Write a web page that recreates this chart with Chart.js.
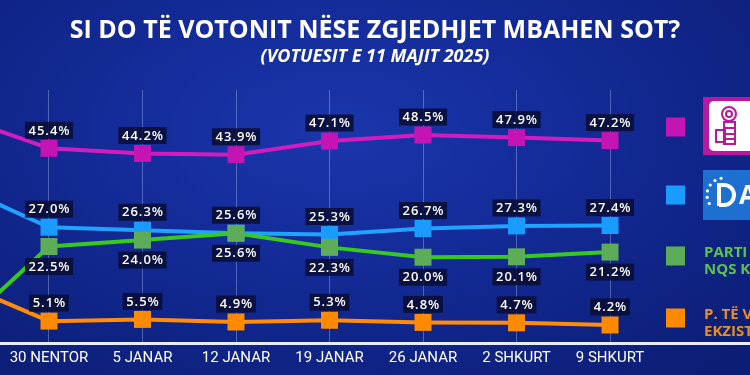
<!DOCTYPE html>
<html>
<head>
<meta charset="utf-8">
<script src="https://cdn.jsdelivr.net/npm/chart.js@4/dist/chart.umd.min.js"></script>
<style>
  html, body { margin: 0; padding: 0; }
  body {
    width: 750px; height: 375px; overflow: hidden;
    background: radial-gradient(ellipse 75% 85% at 45% 35%, #1b36ac 0%, #132a96 45%, #0b1d74 100%);
  }
  #wrap { position: relative; width: 750px; height: 375px; }
</style>
</head>
<body>
<div id="wrap"><canvas id="chart"></canvas></div>
<script>
'use strict';

// index 0 is the earlier poll that sits just off the left edge
const dates = ['', '30 NENTOR', '5 JANAR', '12 JANAR', '19 JANAR', '26 JANAR', '2 SHKURT', '9 SHKURT'];
const parties = ['PS', 'PD', 'PARTI E RE NQS KRIJOHET', 'P. TË VOGLA EKZISTUESE'];

const psValues    = [53.0, 45.4, 44.2, 43.9, 47.1, 48.5, 47.9, 47.2];
const pdValues    = [36.9, 27.0, 26.3, 25.6, 25.3, 26.7, 27.3, 27.4];
const newValues   = [2.5, 22.5, 24.0, 25.6, 22.3, 20.0, 20.1, 21.2];
const smallValues = [14.4, 5.1, 5.5, 4.9, 5.3, 4.8, 4.7, 4.2];

const legendLines = [
    null,
    null,
    ['PARTI E RE', 'NQS KRIJOHET'],
    ['P. TË VOGLA', 'EKZISTUESE'],
];

const COLORS = {
    ps:    { line: '#d21cc0', point: '#c414b3' },
    pd:    { line: '#20a2ff', point: '#1a9bff' },
    fresh: { line: '#38c91f', point: '#5dad58' },
    small: { line: '#ff8c0a', point: '#ff8a00' },
};

function pointRadii(values) {
    return values.map((v, i) => (i === 0 ? 0 : 12));
}

function makeSeries(label, values, colors, order, below) {
    return {
        label,
        data: values.map((v, i) => ({ x: i, y: v })),
        borderColor: colors.line,
        backgroundColor: colors.point,
        pointBackgroundColor: colors.point,
        pointBorderColor: colors.point,
        pointBorderWidth: 0,
        pointStyle: 'rect',
        pointRadius: pointRadii(values),
        borderWidth: 4,
        tension: 0,
        order,
        labelBelow: below,
    };
}

const pointLabels = {
    id: 'pointLabels',
    afterDatasetsDraw(chart) {
        const ctx = chart.ctx;
        ctx.save();
        ctx.font = '600 13px "Open Sans"';
        ctx.letterSpacing = '1px';
        ctx.textAlign = 'center';
        ctx.textBaseline = 'middle';
        chart.data.datasets.forEach((ds, di) => {
            const meta = chart.getDatasetMeta(di);
            meta.data.forEach((pt, i) => {
                if (i === 0) return;
                const text = ds.data[i].y.toFixed(1) + '%';
                const y = pt.y + (ds.labelBelow ? 20 : -18);
                const w = ctx.measureText(text).width + 6;
                ctx.fillStyle = 'rgba(8, 14, 54, 0.88)';
                ctx.fillRect(pt.x - w / 2, y - 8.5, w, 17);
                ctx.fillStyle = '#ffffff';
                ctx.fillText(text, pt.x + 0.5, y + 0.5);
            });
        });
        ctx.restore();
    }
};

function drawPsLogo(ctx) {
    ctx.fillStyle = '#b8179f';
    ctx.fillRect(703, 97, 50, 58);
    ctx.fillStyle = '#ffffff';
    ctx.beginPath();
    ctx.roundRect(709, 101, 46, 50, 5);
    ctx.fill();
    ctx.strokeStyle = '#b8179f';
    ctx.lineWidth = 2;
    ctx.beginPath();
    ctx.arc(729, 114, 7, 0, Math.PI * 2);
    ctx.stroke();
    ctx.beginPath();
    ctx.arc(729, 114, 3, 0, Math.PI * 2);
    ctx.stroke();
    ctx.strokeRect(724, 122, 11, 22);
    ctx.strokeRect(716, 130, 9, 12);
    ctx.beginPath();
    ctx.moveTo(724, 128); ctx.lineTo(735, 128);
    ctx.moveTo(724, 134); ctx.lineTo(735, 134);
    ctx.moveTo(724, 139); ctx.lineTo(735, 139);
    ctx.stroke();
}

function drawPdLogo(ctx) {
    ctx.fillStyle = '#1d6fd0';
    ctx.fillRect(703, 170, 50, 50);
    ctx.strokeStyle = '#ffffff';
    ctx.fillStyle = '#ffffff';
    ctx.lineWidth = 4;
    ctx.beginPath();
    ctx.moveTo(719, 206);
    ctx.lineTo(719, 185);
    ctx.lineTo(724, 185);
    ctx.arc(724, 195, 10, -Math.PI / 2, Math.PI / 2);
    ctx.lineTo(719, 205);
    ctx.stroke();
    for (let a = 150; a <= 260; a += 22) {
        const r = a * Math.PI / 180;
        ctx.beginPath();
        ctx.arc(724 + 17 * Math.cos(r), 195 + 17 * Math.sin(r), 1.6, 0, Math.PI * 2);
        ctx.fill();
    }
    ctx.font = 'bold 26px "Open Sans"';
    ctx.textAlign = 'left';
    ctx.textBaseline = 'middle';
    ctx.fillText('A', 739, 197);
}

const sideLegend = {
    id: 'sideLegend',
    afterDraw(chart) {
        const ctx = chart.ctx;
        const rows = [127, 195, 256, 318];
        const textColors = [null, null, '#5cc44a', '#f08c1c'];
        ctx.save();
        chart.data.datasets.forEach((ds, i) => {
            ctx.fillStyle = ds.pointBackgroundColor;
            ctx.fillRect(666, rows[i] - 9.5, 19, 19);
            const lines = legendLines[i];
            if (lines) {
                ctx.fillStyle = textColors[i];
                ctx.font = 'bold 15px "Open Sans"';
                ctx.textAlign = 'left';
                ctx.textBaseline = 'middle';
                ctx.fillText(lines[0], 704, rows[i] - 3);
                ctx.fillText(lines[1], 704, rows[i] + 14);
            }
        });
        drawPsLogo(ctx);
        drawPdLogo(ctx);
        ctx.restore();
    }
};

new Chart(document.getElementById('chart'), {
    type: 'line',
    data: {
        datasets: [
            makeSeries(parties[0], psValues, COLORS.ps, 2, false),
            makeSeries(parties[1], pdValues, COLORS.pd, 3, false),
            makeSeries(parties[2], newValues, COLORS.fresh, 1, true),
            makeSeries(parties[3], smallValues, COLORS.small, 0, false),
        ]
    },
    options: {
        responsive: true,
        maintainAspectRatio: false,
        animation: false,
        layout: { autoPadding: false, padding: { top: 0, left: 0, right: 0, bottom: 2 } },
        plugins: {
            legend: { display: false },
            tooltip: { enabled: false },
            title: {
                display: true,
                text: 'SI DO TË VOTONIT NËSE ZGJEDHJET MBAHEN SOT?',
                color: '#ffffff',
                font: { family: '"Open Sans"', size: 25, weight: 'bold' },
                padding: { top: 16, bottom: 0 },
            },
            subtitle: {
                display: true,
                text: '(VOTUESIT E 11 MAJIT 2025)',
                color: '#ffffff',
                font: { family: '"Open Sans"', size: 18, weight: 'bold', style: 'italic' },
                padding: { top: 0, bottom: 22.4 },
            },
        },
        scales: {
            x: {
                type: 'linear',
                min: 0.476,
                max: 8.497,
                afterBuildTicks: scale => {
                    scale.ticks = dates.slice(1).map((d, i) => ({ value: i + 1 }));
                },
                afterFit: scale => {
                    scale.paddingLeft = 0;
                    scale.paddingRight = 0;
                },
                grid: { color: 'rgba(200, 210, 255, 0.35)', lineWidth: 1, drawTicks: false },
                border: { display: true, color: '#e8ecff', width: 3 },
                ticks: {
                    color: '#ffffff',
                    autoSkip: false,
                    maxRotation: 0,
                    padding: 6,
                    font: { family: 'Roboto', size: 15 },
                    callback: v => dates[v] || '',
                },
            },
            y: {
                display: false,
                min: 0,
                max: 59,
            }
        }
    },
    plugins: [pointLabels, sideLegend]
});
</script>
</body>
</html>
